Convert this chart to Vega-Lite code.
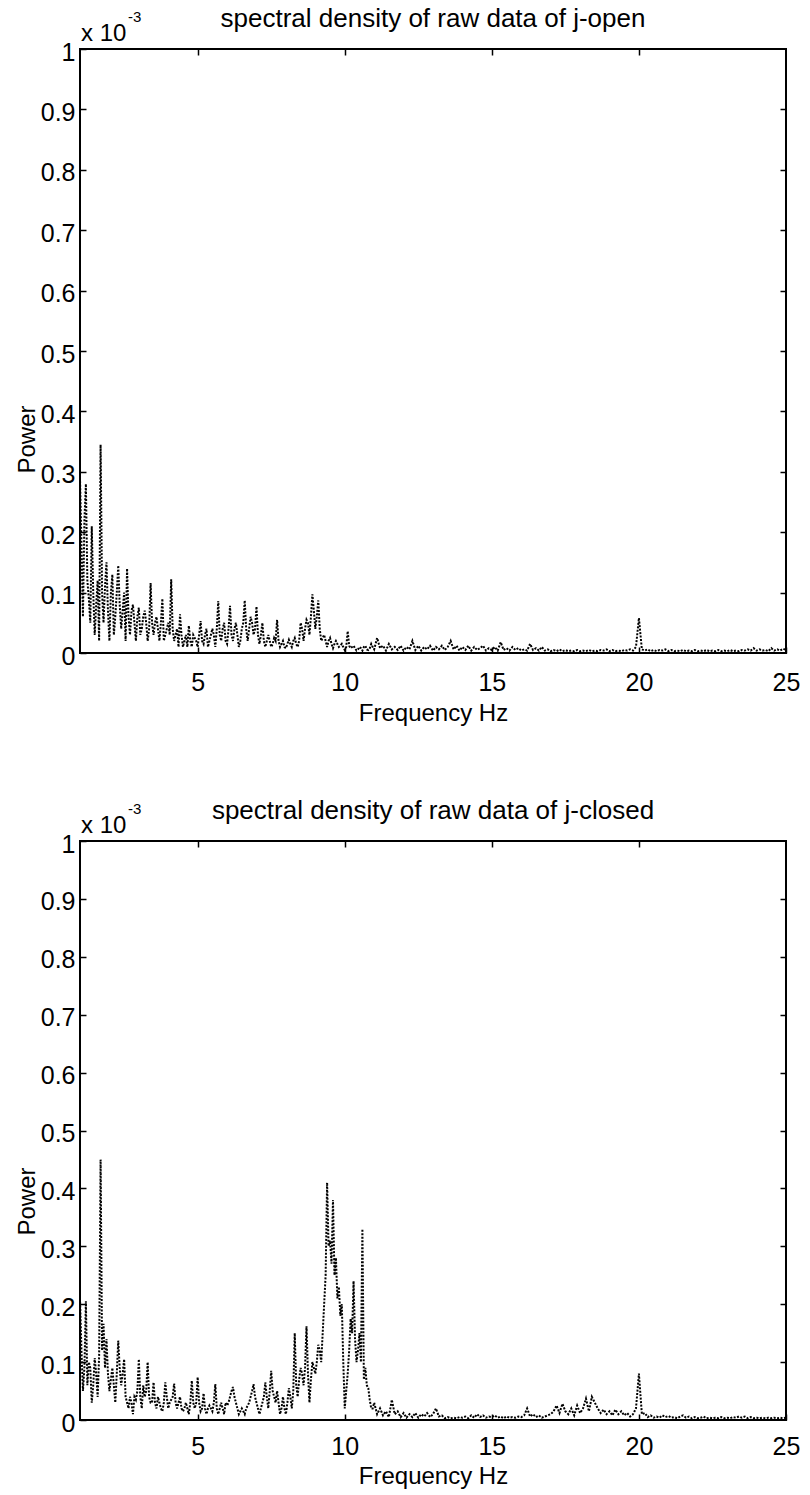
{
  "$schema": "https://vega.github.io/schema/vega-lite/v6.json",
  "autosize": {"type": "pad"},
  "padding": {"left": 14, "top": 5, "right": 0, "bottom": 0},
  "background": "white",
  "bounds": "flush",
  "spacing": 188,
  "config": {
    "view": {"stroke": "black", "strokeWidth": 2},
    "font": "Liberation Sans",
    "axis": {
      "labelFont": "Liberation Sans", "labelFontSize": 25, "labelColor": "black",
      "tickColor": "black", "tickWidth": 1.5, "tickSize": -6,
      "domain": false, "grid": false,
      "titleFont": "Liberation Sans", "titleFontSize": 24, "titleFontWeight": "normal", "titleColor": "black"
    },
    "title": {"font": "Liberation Sans", "fontSize": 26, "fontWeight": "normal", "color": "black"}
  },
  "datasets": {
    "psd": [
{"f":1.0,"open":0.29,"closed":0.21},{"f":1.1,"open":0.06,"closed":0.05},{"f":1.2,"open":0.28,"closed":0.205},{"f":1.3,"open":0.09,"closed":0.1},{"f":1.4,"open":0.21,"closed":0.03},{"f":1.5,"open":0.03,"closed":0.107},{"f":1.6,"open":0.12,"closed":0.04},{"f":1.7,"open":0.345,"closed":0.45},{"f":1.8,"open":0.05,"closed":0.166},{"f":1.9,"open":0.15,"closed":0.14},
{"f":2.0,"open":0.02,"closed":0.05},{"f":2.1,"open":0.13,"closed":0.09},{"f":2.2,"open":0.06,"closed":0.03},{"f":2.3,"open":0.145,"closed":0.137},{"f":2.4,"open":0.04,"closed":0.06},{"f":2.5,"open":0.1,"closed":0.105},{"f":2.6,"open":0.14,"closed":0.03},{"f":2.7,"open":0.03,"closed":0.04},{"f":2.8,"open":0.08,"closed":0.01},{"f":2.9,"open":0.02,"closed":0.035},
{"f":3.0,"open":0.075,"closed":0.105},{"f":3.1,"open":0.04,"closed":0.02},{"f":3.2,"open":0.07,"closed":0.04},{"f":3.3,"open":0.02,"closed":0.1},{"f":3.4,"open":0.116,"closed":0.03},{"f":3.5,"open":0.03,"closed":0.065},{"f":3.6,"open":0.06,"closed":0.02},{"f":3.7,"open":0.02,"closed":0.03},{"f":3.8,"open":0.09,"closed":0.015},{"f":3.9,"open":0.03,"closed":0.065},
{"f":4.0,"open":0.05,"closed":0.02},{"f":4.1,"open":0.122,"closed":0.035},{"f":4.2,"open":0.02,"closed":0.063},{"f":4.3,"open":0.04,"closed":0.02},{"f":4.4,"open":0.064,"closed":0.04},{"f":4.5,"open":0.01,"closed":0.015},{"f":4.6,"open":0.03,"closed":0.03},{"f":4.7,"open":0.045,"closed":0.01},{"f":4.8,"open":0.01,"closed":0.068},{"f":4.9,"open":0.025,"closed":0.02},
{"f":5.0,"open":0.01,"closed":0.074},{"f":5.1,"open":0.053,"closed":0.015},{"f":5.2,"open":0.015,"closed":0.046},{"f":5.3,"open":0.04,"closed":0.01},{"f":5.4,"open":0.02,"closed":0.025},{"f":5.5,"open":0.04,"closed":0.015},{"f":5.6,"open":0.01,"closed":0.062},{"f":5.7,"open":0.086,"closed":0.01},{"f":5.8,"open":0.02,"closed":0.03},{"f":5.9,"open":0.05,"closed":0.01},
{"f":6.0,"open":0.015,"closed":0.025},{"f":6.1,"open":0.078,"closed":0.04},{"f":6.2,"open":0.02,"closed":0.057},{"f":6.3,"open":0.05,"closed":0.03},{"f":6.4,"open":0.01,"closed":0.01},{"f":6.5,"open":0.04,"closed":0.02},{"f":6.6,"open":0.087,"closed":0.01},{"f":6.7,"open":0.02,"closed":0.025},{"f":6.8,"open":0.06,"closed":0.04},{"f":6.9,"open":0.03,"closed":0.062},
{"f":7.0,"open":0.077,"closed":0.03},{"f":7.1,"open":0.015,"closed":0.01},{"f":7.2,"open":0.05,"closed":0.03},{"f":7.3,"open":0.01,"closed":0.065},{"f":7.4,"open":0.03,"closed":0.02},{"f":7.5,"open":0.01,"closed":0.085},{"f":7.6,"open":0.025,"closed":0.04},{"f":7.7,"open":0.055,"closed":0.05},{"f":7.8,"open":0.01,"closed":0.01},{"f":7.9,"open":0.02,"closed":0.04},
{"f":8.0,"open":0.008,"closed":0.01},{"f":8.1,"open":0.022,"closed":0.055},{"f":8.2,"open":0.01,"closed":0.02},{"f":8.3,"open":0.025,"closed":0.15},{"f":8.4,"open":0.01,"closed":0.04},{"f":8.5,"open":0.05,"closed":0.09},{"f":8.6,"open":0.02,"closed":0.06},{"f":8.7,"open":0.055,"closed":0.162},{"f":8.8,"open":0.03,"closed":0.03},{"f":8.9,"open":0.097,"closed":0.1},
{"f":9.0,"open":0.04,"closed":0.08},{"f":9.1,"open":0.087,"closed":0.13},{"f":9.2,"open":0.02,"closed":0.1},{"f":9.3,"open":0.03,"closed":0.2},{"f":9.4,"open":0.01,"closed":0.41},{"f":9.5,"open":0.025,"closed":0.31},{"f":9.6,"open":0.008,"closed":0.38},{"f":9.7,"open":0.02,"closed":0.28},{"f":9.8,"open":0.01,"closed":0.23},{"f":9.9,"open":0.015,"closed":0.2},
{"f":10.0,"open":0.005,"closed":0.02},{"f":10.1,"open":0.036,"closed":0.08},{"f":10.2,"open":0.008,"closed":0.175},{"f":10.3,"open":0.012,"closed":0.24},{"f":10.4,"open":0.004,"closed":0.1},{"f":10.5,"open":0.01,"closed":0.15},{"f":10.6,"open":0.004,"closed":0.33},{"f":10.7,"open":0.012,"closed":0.09},{"f":10.8,"open":0.005,"closed":0.055},{"f":10.9,"open":0.015,"closed":0.02},
{"f":11.0,"open":0.006,"closed":0.03},{"f":11.1,"open":0.025,"closed":0.01},{"f":11.2,"open":0.008,"closed":0.02},{"f":11.3,"open":0.012,"closed":0.008},{"f":11.4,"open":0.004,"closed":0.015},{"f":11.5,"open":0.015,"closed":0.005},{"f":11.6,"open":0.006,"closed":0.035},{"f":11.7,"open":0.01,"closed":0.01},{"f":11.8,"open":0.005,"closed":0.015},{"f":11.9,"open":0.012,"closed":0.005},
{"f":12.0,"open":0.004,"closed":0.012},{"f":12.1,"open":0.01,"closed":0.004},{"f":12.2,"open":0.006,"closed":0.01},{"f":12.3,"open":0.02,"closed":0.005},{"f":12.4,"open":0.005,"closed":0.012},{"f":12.5,"open":0.012,"closed":0.004},{"f":12.6,"open":0.004,"closed":0.01},{"f":12.7,"open":0.01,"closed":0.006},{"f":12.8,"open":0.006,"closed":0.012},{"f":12.9,"open":0.012,"closed":0.005},
{"f":13.0,"open":0.004,"closed":0.01},{"f":13.1,"open":0.01,"closed":0.02},{"f":13.2,"open":0.006,"closed":0.006},{"f":13.3,"open":0.012,"closed":0.008},{"f":13.4,"open":0.005,"closed":0.003},{"f":13.5,"open":0.01,"closed":0.005},{"f":13.6,"open":0.02,"closed":0.003},{"f":13.7,"open":0.006,"closed":0.004},{"f":13.8,"open":0.012,"closed":0.003},{"f":13.9,"open":0.004,"closed":0.005},
{"f":14.0,"open":0.01,"closed":0.004},{"f":14.1,"open":0.005,"closed":0.006},{"f":14.2,"open":0.012,"closed":0.003},{"f":14.3,"open":0.004,"closed":0.008},{"f":14.4,"open":0.01,"closed":0.004},{"f":14.5,"open":0.005,"closed":0.01},{"f":14.6,"open":0.008,"closed":0.005},{"f":14.7,"open":0.012,"closed":0.008},{"f":14.8,"open":0.004,"closed":0.004},{"f":14.9,"open":0.008,"closed":0.006},
{"f":15.0,"open":0.005,"closed":0.005},{"f":15.1,"open":0.01,"closed":0.008},{"f":15.2,"open":0.004,"closed":0.004},{"f":15.3,"open":0.018,"closed":0.006},{"f":15.4,"open":0.005,"closed":0.003},{"f":15.5,"open":0.008,"closed":0.006},{"f":15.6,"open":0.004,"closed":0.004},{"f":15.7,"open":0.01,"closed":0.005},{"f":15.8,"open":0.005,"closed":0.004},{"f":15.9,"open":0.008,"closed":0.006},
{"f":16.0,"open":0.004,"closed":0.005},{"f":16.1,"open":0.006,"closed":0.008},{"f":16.2,"open":0.004,"closed":0.02},{"f":16.3,"open":0.015,"closed":0.006},{"f":16.4,"open":0.005,"closed":0.01},{"f":16.5,"open":0.008,"closed":0.005},{"f":16.6,"open":0.004,"closed":0.008},{"f":16.7,"open":0.01,"closed":0.004},{"f":16.8,"open":0.004,"closed":0.006},{"f":16.9,"open":0.006,"closed":0.008},
{"f":17.0,"open":0.003,"closed":0.01},{"f":17.1,"open":0.005,"closed":0.015},{"f":17.2,"open":0.003,"closed":0.025},{"f":17.3,"open":0.006,"closed":0.012},{"f":17.4,"open":0.003,"closed":0.028},{"f":17.5,"open":0.005,"closed":0.015},{"f":17.6,"open":0.003,"closed":0.01},{"f":17.7,"open":0.004,"closed":0.02},{"f":17.8,"open":0.003,"closed":0.008},{"f":17.9,"open":0.005,"closed":0.025},
{"f":18.0,"open":0.003,"closed":0.012},{"f":18.1,"open":0.004,"closed":0.02},{"f":18.2,"open":0.003,"closed":0.037},{"f":18.3,"open":0.005,"closed":0.015},{"f":18.4,"open":0.003,"closed":0.04},{"f":18.5,"open":0.004,"closed":0.03},{"f":18.6,"open":0.003,"closed":0.02},{"f":18.7,"open":0.005,"closed":0.012},{"f":18.8,"open":0.004,"closed":0.018},{"f":18.9,"open":0.006,"closed":0.01},
{"f":19.0,"open":0.003,"closed":0.015},{"f":19.1,"open":0.005,"closed":0.008},{"f":19.2,"open":0.003,"closed":0.018},{"f":19.3,"open":0.004,"closed":0.01},{"f":19.4,"open":0.003,"closed":0.015},{"f":19.5,"open":0.005,"closed":0.008},{"f":19.6,"open":0.004,"closed":0.012},{"f":19.7,"open":0.006,"closed":0.006},{"f":19.8,"open":0.004,"closed":0.01},{"f":19.9,"open":0.01,"closed":0.02},
{"f":20.0,"open":0.058,"closed":0.08},{"f":20.1,"open":0.006,"closed":0.01},{"f":20.2,"open":0.004,"closed":0.012},{"f":20.3,"open":0.006,"closed":0.005},{"f":20.4,"open":0.003,"closed":0.008},{"f":20.5,"open":0.005,"closed":0.004},{"f":20.6,"open":0.003,"closed":0.006},{"f":20.7,"open":0.005,"closed":0.004},{"f":20.8,"open":0.004,"closed":0.008},{"f":20.9,"open":0.006,"closed":0.005},
{"f":21.0,"open":0.003,"closed":0.007},{"f":21.1,"open":0.005,"closed":0.004},{"f":21.2,"open":0.003,"closed":0.005},{"f":21.3,"open":0.004,"closed":0.003},{"f":21.4,"open":0.003,"closed":0.006},{"f":21.5,"open":0.005,"closed":0.008},{"f":21.6,"open":0.003,"closed":0.004},{"f":21.7,"open":0.004,"closed":0.006},{"f":21.8,"open":0.003,"closed":0.003},{"f":21.9,"open":0.005,"closed":0.005},
{"f":22.0,"open":0.003,"closed":0.003},{"f":22.1,"open":0.004,"closed":0.004},{"f":22.2,"open":0.003,"closed":0.006},{"f":22.3,"open":0.005,"closed":0.003},{"f":22.4,"open":0.003,"closed":0.004},{"f":22.5,"open":0.004,"closed":0.003},{"f":22.6,"open":0.003,"closed":0.004},{"f":22.7,"open":0.005,"closed":0.003},{"f":22.8,"open":0.003,"closed":0.005},{"f":22.9,"open":0.004,"closed":0.003},
{"f":23.0,"open":0.003,"closed":0.004},{"f":23.1,"open":0.005,"closed":0.003},{"f":23.2,"open":0.003,"closed":0.005},{"f":23.3,"open":0.004,"closed":0.004},{"f":23.4,"open":0.003,"closed":0.006},{"f":23.5,"open":0.005,"closed":0.004},{"f":23.6,"open":0.004,"closed":0.006},{"f":23.7,"open":0.006,"closed":0.003},{"f":23.8,"open":0.004,"closed":0.005},{"f":23.9,"open":0.008,"closed":0.003},
{"f":24.0,"open":0.004,"closed":0.004},{"f":24.1,"open":0.006,"closed":0.003},{"f":24.2,"open":0.004,"closed":0.004},{"f":24.3,"open":0.005,"closed":0.003},{"f":24.4,"open":0.003,"closed":0.004},{"f":24.5,"open":0.008,"closed":0.003},{"f":24.6,"open":0.004,"closed":0.004},{"f":24.7,"open":0.006,"closed":0.003},{"f":24.8,"open":0.004,"closed":0.004},{"f":24.9,"open":0.007,"closed":0.003},
{"f":25.0,"open":0.005,"closed":0.004},
{"f":1.05,"open":0.18,"closed":0.12},{"f":1.15,"open":0.22,"closed":0.09},{"f":1.25,"open":0.12,"closed":0.06},{"f":1.35,"open":0.05,"closed":0.09},{"f":1.45,"open":0.1,"closed":0.06},{"f":1.55,"open":0.08,"closed":0.08},{"f":1.65,"open":0.02,"closed":0.11},{"f":1.75,"open":0.1,"closed":0.12},{"f":1.85,"open":0.11,"closed":0.09},{"f":1.95,"open":0.07,"closed":0.08},
{"f":2.05,"open":0.1,"closed":0.07},{"f":2.15,"open":0.03,"closed":0.06},{"f":2.25,"open":0.1,"closed":0.08},{"f":2.35,"open":0.08,"closed":0.09},{"f":2.45,"open":0.07,"closed":0.08},{"f":2.55,"open":0.02,"closed":0.04},{"f":2.65,"open":0.06,"closed":0.02},{"f":2.75,"open":0.07,"closed":0.03},{"f":2.85,"open":0.05,"closed":0.04},{"f":2.95,"open":0.06,"closed":0.05},
{"f":3.05,"open":0.03,"closed":0.04},{"f":3.15,"open":0.06,"closed":0.06},{"f":3.25,"open":0.05,"closed":0.05},{"f":3.35,"open":0.04,"closed":0.04},{"f":3.45,"open":0.05,"closed":0.03},{"f":3.55,"open":0.05,"closed":0.03},{"f":3.65,"open":0.04,"closed":0.04},{"f":3.75,"open":0.05,"closed":0.02},{"f":3.85,"open":0.02,"closed":0.03},{"f":3.95,"open":0.04,"closed":0.04},
{"f":4.05,"open":0.03,"closed":0.03},{"f":4.15,"open":0.04,"closed":0.04},{"f":4.25,"open":0.03,"closed":0.03},{"f":4.35,"open":0.01,"closed":0.03},{"f":4.45,"open":0.03,"closed":0.02},{"f":4.55,"open":0.02,"closed":0.02},{"f":4.65,"open":0.01,"closed":0.02},{"f":4.75,"open":0.02,"closed":0.03},{"f":4.85,"open":0.03,"closed":0.03},{"f":4.95,"open":0.02,"closed":0.03},
{"f":5.05,"open":0.03,"closed":0.03},{"f":5.15,"open":0.02,"closed":0.02},{"f":5.25,"open":0.03,"closed":0.02},{"f":5.35,"open":0.01,"closed":0.02},{"f":5.45,"open":0.03,"closed":0.02},{"f":5.55,"open":0.03,"closed":0.03},{"f":5.65,"open":0.04,"closed":0.02},{"f":5.75,"open":0.03,"closed":0.02},{"f":5.85,"open":0.04,"closed":0.02},{"f":5.95,"open":0.02,"closed":0.03},
{"f":6.05,"open":0.04,"closed":0.03},{"f":6.15,"open":0.03,"closed":0.05},{"f":6.25,"open":0.04,"closed":0.04},{"f":6.35,"open":0.03,"closed":0.02},{"f":6.45,"open":0.02,"closed":0.015},{"f":6.55,"open":0.05,"closed":0.015},{"f":6.65,"open":0.04,"closed":0.02},{"f":6.75,"open":0.04,"closed":0.03},{"f":6.85,"open":0.05,"closed":0.05},{"f":6.95,"open":0.04,"closed":0.04},
{"f":7.05,"open":0.03,"closed":0.02},{"f":7.15,"open":0.03,"closed":0.02},{"f":7.25,"open":0.02,"closed":0.04},{"f":7.35,"open":0.02,"closed":0.04},{"f":7.45,"open":0.02,"closed":0.05},{"f":7.55,"open":0.015,"closed":0.05},{"f":7.65,"open":0.02,"closed":0.03},{"f":7.75,"open":0.02,"closed":0.03},{"f":7.85,"open":0.015,"closed":0.02},{"f":7.95,"open":0.01,"closed":0.02},
{"f":8.05,"open":0.015,"closed":0.03},{"f":8.15,"open":0.015,"closed":0.04},{"f":8.25,"open":0.02,"closed":0.05},{"f":8.35,"open":0.015,"closed":0.06},{"f":8.45,"open":0.02,"closed":0.07},{"f":8.55,"open":0.04,"closed":0.08},{"f":8.65,"open":0.04,"closed":0.09},{"f":8.75,"open":0.05,"closed":0.08},{"f":8.85,"open":0.06,"closed":0.07},{"f":8.95,"open":0.07,"closed":0.09},
{"f":9.05,"open":0.06,"closed":0.1},{"f":9.15,"open":0.04,"closed":0.12},{"f":9.25,"open":0.025,"closed":0.15},{"f":9.35,"open":0.02,"closed":0.25},{"f":9.45,"open":0.02,"closed":0.3},{"f":9.55,"open":0.015,"closed":0.27},{"f":9.65,"open":0.015,"closed":0.25},{"f":9.75,"open":0.015,"closed":0.21},{"f":9.85,"open":0.012,"closed":0.18},{"f":9.95,"open":0.01,"closed":0.1},
{"f":10.05,"open":0.01,"closed":0.05},{"f":10.15,"open":0.012,"closed":0.12},{"f":10.25,"open":0.01,"closed":0.15},{"f":10.35,"open":0.008,"closed":0.14},{"f":10.45,"open":0.006,"closed":0.12},{"f":10.55,"open":0.008,"closed":0.1},{"f":10.65,"open":0.01,"closed":0.07},{"f":10.75,"open":0.006,"closed":0.06},{"f":10.85,"open":0.008,"closed":0.035},{"f":10.95,"open":0.01,"closed":0.02}
    ]
  },
  "vconcat": [
    {
      "width": 706, "height": 604,
      "title": {"text": "spectral density of raw data  of j-open", "anchor": "middle", "frame": "group", "baseline": "alphabetic", "offset": -43},
      "layer": [
        {
          "data": {"name": "psd"},
          "mark": {"type": "line", "color": "black", "strokeWidth": 2, "strokeDash": [2, 1.5], "clip": true},
          "encoding": {
            "x": {"field": "f", "type": "quantitative", "scale": {"domain": [1, 25], "nice": false, "zero": false},
                  "axis": {"orient": "bottom", "values": [5, 10, 15, 20, 25], "labelPadding": 23, "labelFlush": false, "labelOverlap": false, "title": "Frequency Hz", "titleY": 67, "titleBaseline": "alphabetic"}},
            "y": {"field": "open", "type": "quantitative", "scale": {"domain": [0, 1], "nice": false, "zero": true},
                  "axis": {"orient": "left", "values": [0, 0.1, 0.2, 0.3, 0.4, 0.5, 0.6, 0.7, 0.8, 0.9, 1], "format": "~g", "labelPadding": 11, "labelOffset": 3, "labelOverlap": false, "title": "Power", "titleX": -46, "titleY": 390, "titleAngle": 270, "titleBaseline": "alphabetic", "titleAlign": "center"}}
          }
        },
        {
          "data": {"name": "psd"},
          "mark": {"type": "line", "strokeOpacity": 0},
          "encoding": {
            "x": {"field": "f", "type": "quantitative", "axis": {"orient": "top", "values": [5, 10, 15, 20], "labels": false, "title": null}},
            "y": {"field": "open", "type": "quantitative", "axis": {"orient": "right", "values": [0.1, 0.2, 0.3, 0.4, 0.5, 0.6, 0.7, 0.8, 0.9], "labels": false, "title": null}}
          }
        },
        {
          "data": {"values": [{"label": "x 10"}]},
          "mark": {"type": "text", "align": "left", "baseline": "alphabetic", "dx": 1, "dy": -8, "fontSize": 24, "font": "Liberation Sans", "color": "black"},
          "encoding": {
            "x": {"datum": 1, "type": "quantitative", "axis": null},
            "y": {"datum": 1, "type": "quantitative", "axis": null},
            "text": {"field": "label"}
          }
        },
        {
          "data": {"values": [{"label": "-3"}]},
          "mark": {"type": "text", "align": "left", "baseline": "alphabetic", "dx": 48, "dy": -27, "fontSize": 15, "font": "Liberation Sans", "color": "black"},
          "encoding": {
            "x": {"datum": 1, "type": "quantitative", "axis": null},
            "y": {"datum": 1, "type": "quantitative", "axis": null},
            "text": {"field": "label"}
          }
        }
      ],
      "resolve": {"axis": {"x": "independent", "y": "independent"}}
    },
    {
      "width": 706, "height": 579,
      "title": {"text": "spectral density of raw data  of j-closed", "anchor": "middle", "frame": "group", "baseline": "alphabetic", "offset": -43},
      "layer": [
        {
          "data": {"name": "psd"},
          "mark": {"type": "line", "color": "black", "strokeWidth": 2, "strokeDash": [2, 1.5], "clip": true},
          "encoding": {
            "x": {"field": "f", "type": "quantitative", "scale": {"domain": [1, 25], "nice": false, "zero": false},
                  "axis": {"orient": "bottom", "values": [5, 10, 15, 20, 25], "labelPadding": 20, "labelFlush": false, "labelOverlap": false, "title": "Frequency Hz", "titleY": 63, "titleBaseline": "alphabetic"}},
            "y": {"field": "closed", "type": "quantitative", "scale": {"domain": [0, 1], "nice": false, "zero": true},
                  "axis": {"orient": "left", "values": [0, 0.1, 0.2, 0.3, 0.4, 0.5, 0.6, 0.7, 0.8, 0.9, 1], "format": "~g", "labelPadding": 11, "labelOffset": 3, "labelOverlap": false, "title": "Power", "titleX": -46, "titleY": 360, "titleAngle": 270, "titleBaseline": "alphabetic", "titleAlign": "center"}}
          }
        },
        {
          "data": {"name": "psd"},
          "mark": {"type": "line", "strokeOpacity": 0},
          "encoding": {
            "x": {"field": "f", "type": "quantitative", "axis": {"orient": "top", "values": [5, 10, 15, 20], "labels": false, "title": null}},
            "y": {"field": "closed", "type": "quantitative", "axis": {"orient": "right", "values": [0.1, 0.2, 0.3, 0.4, 0.5, 0.6, 0.7, 0.8, 0.9], "labels": false, "title": null}}
          }
        },
        {
          "data": {"values": [{"label": "x 10"}]},
          "mark": {"type": "text", "align": "left", "baseline": "alphabetic", "dx": 1, "dy": -8, "fontSize": 24, "font": "Liberation Sans", "color": "black"},
          "encoding": {
            "x": {"datum": 1, "type": "quantitative", "axis": null},
            "y": {"datum": 1, "type": "quantitative", "axis": null},
            "text": {"field": "label"}
          }
        },
        {
          "data": {"values": [{"label": "-3"}]},
          "mark": {"type": "text", "align": "left", "baseline": "alphabetic", "dx": 48, "dy": -27, "fontSize": 15, "font": "Liberation Sans", "color": "black"},
          "encoding": {
            "x": {"datum": 1, "type": "quantitative", "axis": null},
            "y": {"datum": 1, "type": "quantitative", "axis": null},
            "text": {"field": "label"}
          }
        }
      ],
      "resolve": {"axis": {"x": "independent", "y": "independent"}}
    }
  ]
}
